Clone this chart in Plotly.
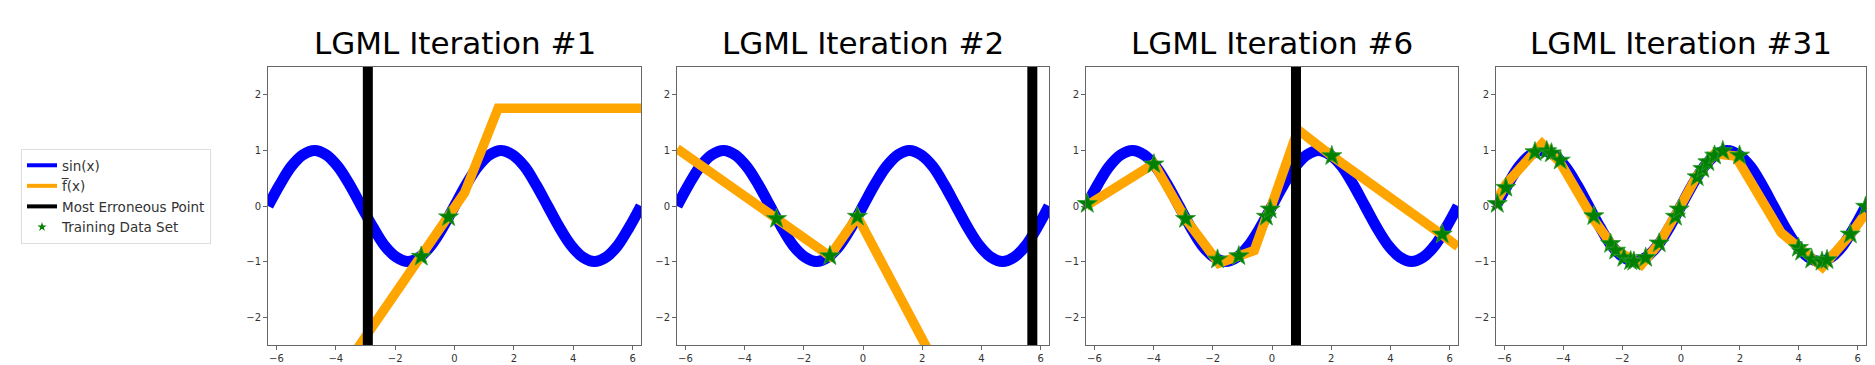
import numpy as np
import plotly.graph_objects as go
from plotly.subplots import make_subplots

# panel titles
TITLES = ["LGML Iteration #1", "LGML Iteration #2", "LGML Iteration #6", "LGML Iteration #31"]

# sin(x) read at steps of pi/8
SIN_X = [-6.28, -5.89, -5.50, -5.11, -4.71, -4.32, -3.93, -3.53, -3.14, -2.75, -2.36,
         -1.96, -1.57, -1.18, -0.79, -0.39, 0.0, 0.39, 0.79, 1.18, 1.57, 1.96, 2.36,
         2.75, 3.14, 3.53, 3.93, 4.32, 4.71, 5.11, 5.50, 5.89, 6.28]
SIN_Y = [0.0, 0.38, 0.71, 0.92, 1.0, 0.92, 0.71, 0.38, 0.0, -0.38, -0.71,
         -0.92, -1.0, -0.92, -0.71, -0.38, 0.0, 0.38, 0.71, 0.92, 1.0, 0.92, 0.71,
         0.38, 0.0, -0.38, -0.71, -0.92, -1.0, -0.92, -0.71, -0.38, 0.0]

# f-bar(x), piecewise linear approximation per iteration
FBAR_X_1 = [-6.283, -1.12, -0.20, 0.34, 1.47, 6.283]
FBAR_Y_1 = [-4.9, -0.91, -0.20, 0.24, 1.76, 1.76]
FBAR_X_2 = [-6.283, -1.12, -0.19, 6.283]
FBAR_Y_2 = [1.03, -0.90, -0.19, -6.7]
FBAR_X_3 = [-6.283, -3.99, -2.92, -1.80, -1.12, -0.60, -0.19, -0.06, 0.81, None, 0.81, 2.02, 5.75, 6.283]
FBAR_Y_3 = [0.0, 0.76, -0.23, -1.03, -0.90, -0.80, -0.19, -0.06, 1.27, None, 1.40, 0.90, -0.52, -0.73]
FBAR_X_4 = [-6.283, -5.95, -4.72, -4.10, -2.96, -2.22, -1.35, -0.74, -0.09, 0.55, 1.14, 1.85, 3.40, 3.99, 4.80, 5.75, 6.283]
FBAR_Y_4 = [0.08, 0.39, 1.12, 0.78, -0.25, -0.79, -1.06, -0.67, -0.07, 0.55, 0.94, 0.90, -0.48, -0.73, -1.10, -0.52, -0.12]

# most erroneous point (None = not shown)
ERR_X = [-2.92, 5.72, 0.81, None]

# training data sets
TRAIN_X_1 = [-1.12, -0.20]
TRAIN_Y_1 = [-0.91, -0.20]
TRAIN_X_2 = [-2.92, -1.12, -0.19]
TRAIN_Y_2 = [-0.23, -0.90, -0.19]
TRAIN_X_3 = [-6.24, -3.99, -2.92, -1.84, -1.12, -0.19, -0.06, 2.02, 5.75]
TRAIN_Y_3 = [0.04, 0.75, -0.23, -0.96, -0.90, -0.19, -0.06, 0.90, -0.51]
TRAIN_X_4 = [-6.24, -5.95, -4.96, -4.56, -4.40, -4.10, -2.96, -2.39, -2.22, -1.94, -1.71, -1.60,
             -1.20, -0.74, -0.19, -0.06, 0.55, 0.74, 0.91, 1.14, 1.42, 1.99, 3.99, 4.10,
             4.44, 4.79, 4.96, 5.75, 6.27]
TRAIN_Y_4 = [0.04, 0.33, 0.97, 0.99, 0.95, 0.82, -0.18, -0.68, -0.80, -0.93, -0.99, -1.0,
             -0.93, -0.67, -0.19, -0.06, 0.52, 0.67, 0.79, 0.91, 0.99, 0.91, -0.75, -0.82,
             -0.96, -1.0, -0.97, -0.51, -0.01]

X_TICKS = [-6, -4, -2, 0, 2, 4, 6]
Y_TICKS = [-2, -1, 0, 1, 2]
X_RANGE = [-2 * np.pi, 2 * np.pi]
Y_RANGE = [-2.5, 2.5]

FBAR_X = [FBAR_X_1, FBAR_X_2, FBAR_X_3, FBAR_X_4]
FBAR_Y = [FBAR_Y_1, FBAR_Y_2, FBAR_Y_3, FBAR_Y_4]
TRAIN_X = [TRAIN_X_1, TRAIN_X_2, TRAIN_X_3, TRAIN_X_4]
TRAIN_Y = [TRAIN_Y_1, TRAIN_Y_2, TRAIN_Y_3, TRAIN_Y_4]

W, H = 1875, 365
# pixel boxes of the four axes
PANEL_LEFT = [260, 669, 1078, 1488]
PANEL_RIGHT = [633, 1041, 1450, 1858]
PANEL_TOP, PANEL_BOTTOM = 59, 337

fig = make_subplots(rows=1, cols=4)

for i in range(4):
    col = i + 1
    fig.add_trace(go.Scatter(x=SIN_X, y=SIN_Y, mode='lines', line=dict(color='#0000ff', width=11, shape='spline'),
                             showlegend=False, hoverinfo='skip'), row=1, col=col)
    fig.add_trace(go.Scatter(x=FBAR_X[i], y=FBAR_Y[i], mode='lines', line=dict(color='#ffa500', width=9.5),
                             showlegend=False, hoverinfo='skip'), row=1, col=col)
    if ERR_X[i] is not None:
        fig.add_trace(go.Scatter(x=[ERR_X[i], ERR_X[i]], y=[-3, 3], mode='lines', line=dict(color='black', width=10),
                                 showlegend=False, hoverinfo='skip'), row=1, col=col)
    fig.add_trace(go.Scatter(x=TRAIN_X[i], y=TRAIN_Y[i], mode='markers', cliponaxis=False,
                             marker=dict(symbol='star', size=15, color='#008000', line=dict(color='#2e9a2e', width=0.8)),
                             showlegend=False, hoverinfo='skip'), row=1, col=col)

    fig.update_xaxes(domain=[PANEL_LEFT[i] / W, PANEL_RIGHT[i] / W], range=X_RANGE, tickvals=X_TICKS, row=1, col=col)
    fig.update_yaxes(domain=[1 - PANEL_BOTTOM / H, 1 - PANEL_TOP / H], range=Y_RANGE, tickvals=Y_TICKS, row=1, col=col)

    fig.add_annotation(text=TITLES[i], xref='paper', yref='paper',
                       x=(PANEL_LEFT[i] + PANEL_RIGHT[i]) / 2 / W, y=1 - 55 / H,
                       xanchor='center', yanchor='bottom', showarrow=False,
                       font=dict(family='DejaVu Sans', size=31, color='black'))

# legend-only traces (thinner swatches like the original)
fig.add_trace(go.Scatter(x=[None], y=[None], mode='lines', name='sin(x)', line=dict(color='#0000ff', width=4)), row=1, col=1)
fig.add_trace(go.Scatter(x=[None], y=[None], mode='lines', name='f\u0305(x)', line=dict(color='#ffa500', width=4)), row=1, col=1)
fig.add_trace(go.Scatter(x=[None], y=[None], mode='lines', name='Most Erroneous Point', line=dict(color='black', width=4)), row=1, col=1)
fig.add_trace(go.Scatter(x=[None], y=[None], mode='markers', name='Training Data Set',
                         marker=dict(symbol='star', size=7, color='#008000')), row=1, col=1)

axis_style = dict(showgrid=False, zeroline=False, showline=True, mirror=True, linecolor='#666', linewidth=1,
                  ticks='outside', ticklen=4, tickcolor='#666', automargin=False,
                  tickfont=dict(family='DejaVu Sans', size=10, color='#333'))
fig.update_xaxes(**axis_style)
fig.update_yaxes(**axis_style)

fig.update_layout(
    width=W, height=H,
    margin=dict(l=0, r=0, t=0, b=0),
    plot_bgcolor='white', paper_bgcolor='white',
    font=dict(family='DejaVu Sans'),
    showlegend=True,
    legend=dict(x=13 / W, y=1 - 141 / H, xanchor='left', yanchor='top',
                bgcolor='rgba(255,255,255,0.8)', bordercolor='#dddddd', borderwidth=1,
                font=dict(family='DejaVu Sans', size=13.5, color='#333')),
)

fig.write_html("out.html")
